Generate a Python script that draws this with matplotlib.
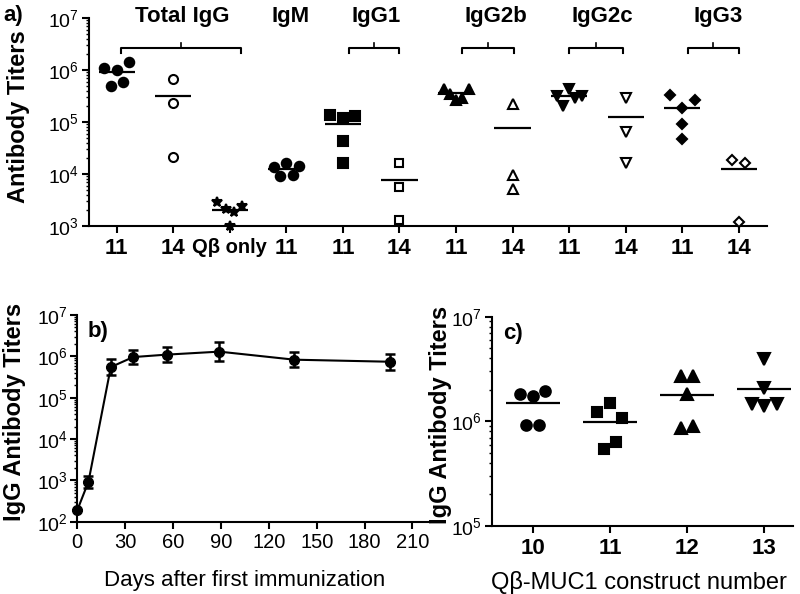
import numpy as np
import matplotlib
matplotlib.use('Agg')
import matplotlib.pyplot as plt
import matplotlib.transforms as mtrans
from matplotlib.ticker import LogLocator, NullFormatter

plt.rcParams['font.family'] = ['Liberation Sans', 'DejaVu Sans']
plt.rcParams['mathtext.default'] = 'regular'

# ---------------- data: panel a ----------------
a_tick_labels = ['11', '14', 'Qβ only', '11', '11', '14', '11', '14', '11', '14', '11', '14']
a_total_11 = [1.1e6, 5.0e5, 1.0e6, 6.0e5, 1.4e6]
a_total_14 = [6.8e5, 2.3e5, 2.1e4]
a_qb_only = [2.9e3, 2.1e3, 1.0e3, 1.9e3, 2.4e3]
a_igm_11 = [1.35e4, 9.0e3, 1.66e4, 9.4e3, 1.45e4]
a_igg1_11 = [1.38e5, 1.2e5, 1.32e5, 4.4e4, 1.66e4]
a_igg1_14 = [1.6e4, 5.7e3, 1.3e3]
a_igg2b_11 = [4.4e5, 3.5e5, 2.6e5, 2.9e5, 4.4e5]
a_igg2b_14 = [2.2e5, 9.4e3, 5.2e3]
a_igg2c_11 = [3.2e5, 2.0e5, 4.4e5, 2.9e5, 3.2e5]
a_igg2c_14 = [2.9e5, 6.3e4, 1.66e4]
a_igg3_11 = [3.3e5, 1.9e5, 2.7e5, 9.3e4, 4.8e4]
a_igg3_14 = [1.9e4, 1.66e4, 1.2e3]
a_group_titles = ['Total IgG', 'IgM', 'IgG1', 'IgG2b', 'IgG2c', 'IgG3']

# ---------------- data: panel b ----------------
b_days = [0, 7, 21, 35, 56, 89, 136, 196]
b_mean = [190, 930, 5.5e5, 9.6e5, 1.1e6, 1.3e6, 8.3e5, 7.4e5]
b_upper = [190, 1300, 8.7e5, 1.4e6, 1.65e6, 2.2e6, 1.26e6, 1.17e6]
b_lower = [190, 670, 3.5e5, 6.6e5, 7.5e5, 7.8e5, 5.5e5, 4.7e5]
b_xticks = [0, 30, 60, 90, 120, 150, 180, 210]

# ---------------- data: panel c ----------------
c_tick_labels = ['10', '11', '12', '13']
c_10 = [1.84e6, 9.2e5, 1.76e6, 9.3e5, 1.97e6]
c_11 = [1.22e6, 5.4e5, 1.5e6, 6.4e5, 1.08e6]
c_12 = [2.7e6, 8.6e5, 1.83e6, 9.1e5, 2.7e6]
c_13 = [1.45e6, 3.9e6, 1.39e6, 2.08e6, 1.45e6]

W, H, DPI = 800, 594, 100
fig = plt.figure(figsize=(W / DPI, H / DPI), dpi=DPI)

ax_a = fig.add_axes([88.5 / W, 1 - 226 / H, (767 - 88.5) / W, 208 / H])
ax_b = fig.add_axes([77.3 / W, 1 - 521.7 / H, (430 - 77.3) / W, (521.7 - 315) / H])
ax_c = fig.add_axes([491.7 / W, 1 - 526 / H, (793 - 491.7) / W, (526 - 316.7) / H])


def style_log_axis(ax):
    ax.set_yscale('log')
    for s in ['top', 'right']:
        ax.spines[s].set_visible(False)
    for s in ['left', 'bottom']:
        ax.spines[s].set_linewidth(1.5)
    ax.yaxis.set_major_locator(LogLocator(base=10, numticks=20))
    ax.yaxis.set_minor_locator(LogLocator(base=10, subs=np.arange(2, 10), numticks=20))
    ax.yaxis.set_minor_formatter(NullFormatter())
    ax.tick_params(axis='y', which='major', length=5, width=1.5, labelsize=14, pad=2)
    ax.tick_params(axis='y', which='minor', length=2.5, width=1.0)
    ax.tick_params(axis='x', which='major', length=5, width=1.5)


def swarm_offsets(ax, vals, thr_px=11.0, max_step_px=12.5, span_px=25.0):
    pos = ax.get_position()
    wpx = pos.width * W
    hpx = pos.height * H
    x0, x1 = ax.get_xlim()
    y0, y1 = ax.get_ylim()
    px_unit = wpx / (x1 - x0)
    px_dec = hpx / (np.log10(y1) - np.log10(y0))
    logs = np.log10(np.asarray(vals, float))
    order = np.argsort(logs, kind='stable')
    clusters, cur = [], [order[0]]
    for i in order[1:]:
        if (logs[i] - logs[cur[-1]]) * px_dec > thr_px:
            clusters.append(cur)
            cur = [i]
        else:
            cur.append(i)
    clusters.append(cur)
    off = np.zeros(len(vals))
    for c in clusters:
        c = sorted(c)
        k = len(c)
        if k > 1:
            step = min(max_step_px, span_px / (k - 1))
            for j, idx in enumerate(c):
                off[idx] = (j - (k - 1) / 2) * step / px_unit
    return off


def draw_group(ax, xc, vals, marker, filled, ms, half, mew=1.5):
    off = swarm_offsets(ax, vals)
    ax.plot(xc + off, vals, linestyle='none', marker=marker, ms=ms,
            mfc='black' if filled else 'white', mec='black', mew=mew,
            clip_on=False, zorder=3)
    m = np.mean(vals)
    ax.plot([xc - half, xc + half], [m, m], color='black', lw=1.6, zorder=2, solid_capstyle='butt')


# ---------------- panel a ----------------
style_log_axis(ax_a)
ax_a.set_xlim(-0.5, 11.5)
ax_a.set_ylim(1e3, 1e7)
ax_a.set_xticks(np.arange(len(a_tick_labels)))
ax_a.set_xticklabels(a_tick_labels, fontsize=16, fontweight='bold')
ax_a.tick_params(axis='x', pad=4)
for lbl in ax_a.get_xticklabels():
    if lbl.get_text() == 'Qβ only':
        lbl.set_fontsize(14.5)
        lbl.set_x(lbl.get_position()[0])

a_groups = [a_total_11, a_total_14, a_qb_only, a_igm_11, a_igg1_11, a_igg1_14,
            a_igg2b_11, a_igg2b_14, a_igg2c_11, a_igg2c_14, a_igg3_11, a_igg3_14]
a_styles = [('o', True, 6.8), ('o', False, 6.5), ('*', True, 7.0), ('o', True, 6.8),
            ('s', True, 6.5), ('s', False, 6.3), ('^', True, 7.2), ('^', False, 7.0),
            ('v', True, 7.2), ('v', False, 7.0), ('D', True, 5.3), ('D', False, 5.3)]
for i, (vals, (mk, fl, ms)) in enumerate(zip(a_groups, a_styles)):
    draw_group(ax_a, i, vals, mk, fl, ms, 0.32)

tr = mtrans.blended_transform_factory(ax_a.transData, ax_a.transAxes)
title_x = [1.15, 3.08, 4.59, 6.70, 8.58, 10.64]
for t, x in zip(a_group_titles, title_x):
    ax_a.text(x, 1.005, t, transform=tr, ha='center', va='center',
              fontsize=16, fontweight='bold')
brackets = [(0.07, 2.2), (4.1, 5.0), (6.1, 7.03), (8.0, 8.95), (10.1, 11.0)]
yl, ye, yt = 0.858, 0.830, 0.882
for b0, b1 in brackets:
    ax_a.plot([b0, b0, b1, b1], [ye, yl, yl, ye], transform=tr, color='black',
              lw=1.5, clip_on=False)
    mid = (b0 + b1) / 2
    ax_a.plot([mid, mid], [yl, yt], transform=tr, color='black', lw=1.2, clip_on=False)

fig.text(19 / W, 1 - 117 / H, 'Antibody Titers', rotation=90, ha='center', va='center',
         fontsize=17, fontweight='bold')
fig.text(3 / W, 1 - 15 / H, 'a)', ha='left', va='center', fontsize=16, fontweight='bold')

# ---------------- panel b ----------------
style_log_axis(ax_b)
ax_b.set_xlim(0, 221)
ax_b.set_ylim(1e2, 1e7)
ax_b.set_xticks(b_xticks)
ax_b.tick_params(axis='x', labelsize=14.5, pad=3)
b_mean_arr = np.array(b_mean)
yerr = [b_mean_arr - np.array(b_lower), np.array(b_upper) - b_mean_arr]
ax_b.errorbar(b_days, b_mean, yerr=yerr, color='black', lw=1.5, marker='o', ms=7,
              elinewidth=1.8, capsize=3.5, capthick=1.8, clip_on=False, zorder=3)
ax_b.set_xlabel('Days after first immunization', fontsize=16)
ax_b.xaxis.set_label_coords(0.473, -0.235)
fig.text(15 / W, 1 - 412 / H, 'IgG Antibody Titers', rotation=90, ha='center', va='center',
         fontsize=17, fontweight='bold')
fig.text(88 / W, 1 - 332 / H, 'b)', ha='left', va='center', fontsize=16, fontweight='bold')

# ---------------- panel c ----------------
style_log_axis(ax_c)
ax_c.set_xlim(-0.53, 3.37)
ax_c.set_ylim(1e5, 1e7)
ax_c.set_xticks(np.arange(len(c_tick_labels)))
ax_c.set_xticklabels(c_tick_labels, fontsize=16, fontweight='bold')
ax_c.tick_params(axis='x', pad=4)
c_groups = [c_10, c_11, c_12, c_13]
c_styles = [('o', 7.6), ('s', 7.0), ('^', 8.0), ('v', 8.0)]
for i, (vals, (mk, ms)) in enumerate(zip(c_groups, c_styles)):
    draw_group(ax_c, i, vals, mk, True, ms, 0.35)
ax_c.set_xlabel('Qβ-MUC1 construct number', fontsize=17)
ax_c.xaxis.set_label_coords(0.49, -0.215)
fig.text(440 / W, 1 - 415 / H, 'IgG Antibody Titers', rotation=90, ha='center', va='center',
         fontsize=17, fontweight='bold')
fig.text(503 / W, 1 - 334 / H, 'c)', ha='left', va='center', fontsize=16, fontweight='bold')

fig.savefig('out.png', dpi=DPI)
